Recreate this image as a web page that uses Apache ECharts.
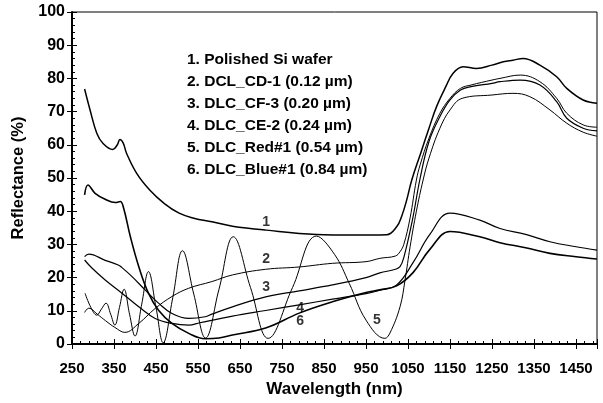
<!DOCTYPE html>
<html>
<head>
<meta charset="utf-8">
<script src="https://cdn.jsdelivr.net/npm/echarts@6/dist/echarts.min.js"></script>
<style>
  html, body { margin: 0; padding: 0; background: #fff; }
  #chart { width: 603px; height: 403px; }
</style>
</head>
<body>
<div id="chart"></div>
<script>
// 1. Polished Si wafer
var wl1 = [280, 293, 309, 324, 347, 358, 364, 372, 380, 404, 435, 470, 505, 540, 583, 632, 712, 832, 920, 999, 1023, 1035, 1047, 1059, 1080, 1100, 1118, 1140, 1157, 1181, 1213, 1250, 1277, 1300, 1324, 1364, 1404, 1428, 1467, 1500];
var r1 = [76.8, 70.5, 63.5, 60.4, 58.6, 60, 61.6, 60.5, 57.4, 51.4, 46.4, 42.3, 39.4, 37.9, 36.8, 35.5, 34.3, 33, 32.8, 32.9, 35.3, 38.5, 43.4, 49.4, 57.4, 65, 71.5, 77.5, 81.5, 83.5, 83, 84, 85, 85.5, 86, 84, 80.5, 77, 73.5, 72.5];
// 2. DCL_CD-1
var wl2 = [280, 290, 310, 330, 352, 376, 409, 448, 488, 528, 583, 632, 711, 791, 870, 950, 983, 1020, 1031, 1040, 1055, 1070, 1079, 1100, 1126, 1150, 1175, 1200, 1250, 1269, 1317, 1364, 1404, 1428, 1467, 1500];
var r2 = [9.5, 10.8, 9, 7, 5, 3.5, 6.2, 10.7, 14.3, 16.8, 18.8, 20.8, 22.5, 23.2, 24.3, 24.8, 25.8, 26.5, 27.8, 30, 38, 49.4, 54, 62, 69.5, 74, 77, 78, 79.5, 80, 81, 79, 74, 69.5, 66, 65.3];
// 3. DLC_CF-3
var wl3 = [280, 290, 329, 360, 369, 393, 424, 456, 488, 528, 567, 583, 632, 711, 791, 870, 950, 983, 1020, 1031, 1040, 1060, 1079, 1100, 1126, 1150, 1175, 1200, 1250, 1269, 1317, 1364, 1404, 1428, 1467, 1500];
var r3 = [26.3, 27.1, 25.2, 23.8, 23, 20.3, 16.3, 12.3, 9.2, 7.7, 8.2, 9.0, 11.2, 14.2, 16, 17.8, 20, 21.4, 22.5, 23.3, 26, 37, 50, 61, 68.5, 73.5, 76.5, 77.5, 78.5, 79, 79.5, 78, 73, 68, 65, 64.2];
// 4. DLC_CE-2
var wl4 = [280, 298, 329, 369, 409, 448, 488, 528, 554, 632, 711, 791, 870, 950, 983, 1023, 1062, 1102, 1150, 1221, 1269, 1330, 1388, 1450, 1500];
var r4 = [25.3, 22.8, 19.3, 15.3, 11.2, 7.7, 6.2, 5.7, 6.4, 8.4, 10.1, 11.8, 13.5, 15.2, 16.2, 17.8, 24.5, 33, 39.4, 37.3, 34.8, 33, 30.8, 29.3, 28.3];
// 5. DLC_Red#1
var wl5 = [281, 295, 309, 320, 331, 342, 352, 363, 374, 387, 400, 416, 432, 450, 467, 490, 513, 540, 568, 600, 634, 675, 717, 775, 832, 875, 910, 950, 995, 1007, 1031, 1043, 1055, 1070, 1086, 1100, 1126, 1150, 1179, 1250, 1300, 1340, 1388, 1428, 1467, 1500];
var r5 = [15.3, 11, 8.7, 10.5, 12.3, 9, 5.7, 11, 16.5, 9, 2.4, 12, 21.8, 11, 0.4, 14, 28.1, 15, 1.8, 16.5, 32.3, 17, 1.7, 17, 32.5, 27, 18.3, 7.2, 1.7, 3.3, 11.2, 19.3, 29.3, 40, 49.4, 56, 65, 70.5, 74, 75, 75.5, 74.5, 70.5, 66.5, 63.8, 62.6];
// 6. DLC_Blue#1
var wl6 = [280, 288, 305, 329, 353, 365, 373, 389, 409, 432, 456, 488, 528, 567, 600, 632, 711, 791, 870, 950, 983, 1023, 1062, 1102, 1150, 1221, 1269, 1330, 1388, 1450, 1500];
var r6 = [44.9, 47.9, 45.4, 43.6, 42.6, 42.9, 40.9, 32.3, 23.3, 15.3, 10.2, 6.2, 3.2, 1.6, 1.8, 2.7, 4.8, 9.3, 12.7, 15.5, 16.3, 17.5, 21.5, 28.5, 33.9, 32.3, 30.5, 29, 27.3, 26.3, 25.6];

var legendLines = [
  '1. Polished Si wafer',
  '2. DCL_CD-1 (0.12 \u00b5m)',
  '3. DLC_CF-3 (0.20 \u00b5m)',
  '4. DLC_CE-2 (0.24 \u00b5m)',
  '5. DLC_Red#1 (0.54 \u00b5m)',
  '6. DLC_Blue#1 (0.84 \u00b5m)'
];

// curve number labels
var labX = [712, 712, 712, 793, 976, 793];
var labY = [36.7, 25.6, 17.2, 10.8, 7.2, 6.9];
var labT = ['1', '2', '3', '4', '5', '6'];

var FONT = '"Liberation Sans", Arial, sans-serif';

function zip(xs, ys) {
  return xs.map(function (x, i) { return [x, ys[i]]; });
}

function curve(name, xs, ys, w) {
  return {
    name: name,
    type: 'line',
    xAxisIndex: 0,
    yAxisIndex: 0,
    data: zip(xs, ys),
    showSymbol: false,
    smooth: 0.4,
    silent: true,
    lineStyle: { color: '#000', width: w },
    z: 3
  };
}

// extra axes only carry the major ticks (inside + outside)
function tickAxis(base, inside) {
  return Object.assign({
    type: 'value',
    axisLine: { show: false },
    axisLabel: { show: false },
    splitLine: { show: false },
    axisTick: { show: true, inside: inside, length: 5, lineStyle: { color: '#000', width: 1 } }
  }, base);
}

var chart = echarts.init(document.getElementById('chart'));

var option = {
  backgroundColor: '#fff',
  animation: false,
  grid: {
    left: 72, right: 6, top: 12, bottom: 59,
    show: true, borderColor: '#000', borderWidth: 1
  },
  xAxis: [
    {
      type: 'value',
      min: 250, max: 1500, interval: 20,
      position: 'bottom',
      name: 'Wavelength (nm)',
      nameLocation: 'middle',
      nameGap: 36,
      nameTextStyle: { fontFamily: FONT, fontWeight: 'bold', fontSize: 17, color: '#000' },
      axisLine: { show: true, lineStyle: { color: '#000', width: 2 } },
      axisTick: { show: true, inside: true, length: 3, lineStyle: { color: '#000', width: 1 } },
      axisLabel: {
        margin: 17,
        fontFamily: FONT, fontWeight: 'bold', fontSize: 15, color: '#000',
        formatter: function (v) { return ((v - 250) % 100 === 0 && v < 1500) ? String(v) : ''; }
      },
      splitLine: { show: false }
    },
    tickAxis({ min: 250, max: 1500, interval: 100, position: 'bottom' }, true),
    tickAxis({ min: 250, max: 1500, interval: 100, position: 'bottom' }, false)
  ],
  yAxis: [
    {
      type: 'value',
      min: 0, max: 100, interval: 2,
      position: 'left',
      name: 'Reflectance (%)',
      nameLocation: 'middle',
      nameGap: 44,
      nameTextStyle: { fontFamily: FONT, fontWeight: 'bold', fontSize: 16.5, color: '#000' },
      axisLine: { show: true, lineStyle: { color: '#000', width: 2 } },
      axisTick: { show: true, inside: true, length: 3, lineStyle: { color: '#000', width: 1 } },
      axisLabel: {
        margin: 7,
        fontFamily: FONT, fontWeight: 'bold', fontSize: 16, color: '#000',
        formatter: function (v) { return v % 10 === 0 ? String(v) : ''; }
      },
      splitLine: { show: false }
    },
    tickAxis({ min: 0, max: 100, interval: 10, position: 'left' }, true),
    tickAxis({ min: 0, max: 100, interval: 10, position: 'left' }, false)
  ],
  graphic: [{
    type: 'text',
    left: 187,
    top: 49,
    style: {
      text: legendLines.join('\n'),
      font: 'bold 15.5px ' + FONT,
      lineHeight: 22,
      fill: '#000'
    },
    z: 10
  }],
  series: [
    curve('1', wl1, r1, 1.5),
    curve('2', wl2, r2, 1),
    curve('3', wl3, r3, 1.2),
    curve('4', wl4, r4, 1.2),
    curve('5', wl5, r5, 1),
    curve('6', wl6, r6, 1.6),
    {
      name: 'labels',
      type: 'scatter',
      xAxisIndex: 0,
      yAxisIndex: 0,
      symbolSize: 0,
      silent: true,
      data: labX.map(function (x, i) { return { value: [x, labY[i]], name: labT[i] }; }),
      label: {
        show: true,
        position: 'inside',
        formatter: function (p) { return p.name; },
        fontFamily: FONT, fontWeight: 'bold', fontSize: 14, color: '#000'
      },
      z: 5
    }
  ]
};

chart.setOption(option);
</script>
</body>
</html>
